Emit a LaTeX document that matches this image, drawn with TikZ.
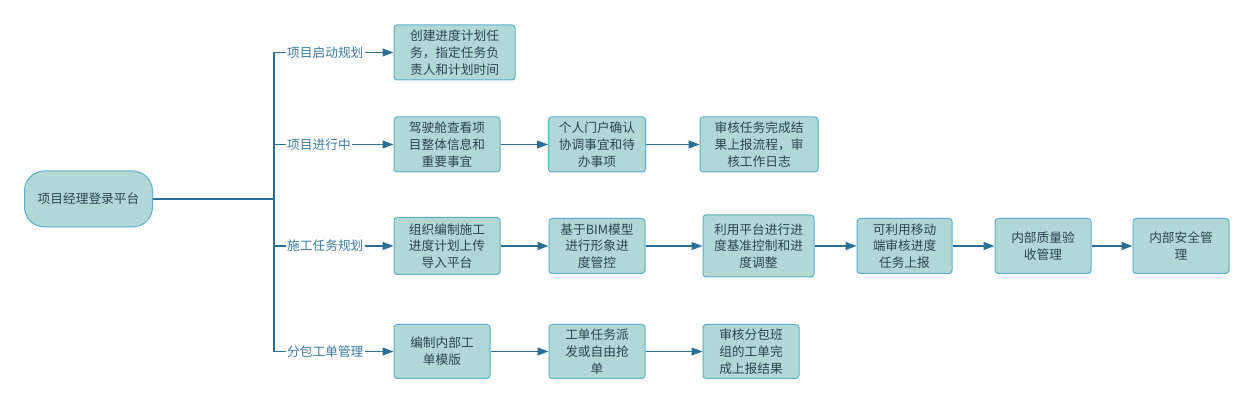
\documentclass[tikz,border=0pt]{standalone}
\usepackage{fontspec}
\setmainfont{Noto Sans CJK SC}
\usetikzlibrary{arrows.meta}
\definecolor{boxfill}{HTML}{B2D8D6}
\definecolor{boxline}{HTML}{5AB0CC}
\definecolor{linkline}{HTML}{2B6E96}
\definecolor{boxtext}{HTML}{2D4452}
\definecolor{labeltext}{HTML}{3A7AA0}
\newcommand\boxfont{\fontsize{12.7}{16.7}\selectfont}
\begin{document}
\begin{tikzpicture}
[x=1pt,y=-1pt,
  rootdecorate/.style={shape=rectangle,rounded corners=20pt,draw=boxline,fill=boxfill,%
    line width=1pt,minimum width=128pt,minimum height=56pt,text=boxtext,font=\boxfont},
  boxdecorate/.style={shape=rectangle,rounded corners=3pt,draw=boxline,fill=boxfill,%
    line width=1pt,inner sep=0pt,align=center,text=boxtext,font=\boxfont},
  labeldecorate/.style={anchor=west,fill=white,inner sep=1pt,text=labeltext,font=\boxfont},
  linedecorate/.style={-,draw=linkline,line width=1.2pt},
  arrowdecorate/.style={-{Triangle[length=11pt,width=8pt]},draw=linkline,line width=1.2pt}]
\useasboundingbox (0,0) rectangle (1254,403);
%% nodes or vertices
\node (root) at (88.5,199) [rootdecorate] {项目经理登录平台};
\coordinate (trunk) at (274,199);
\foreach \nodename/\y/\txt in {l1/52.5/项目启动规划, l2/144.5/项目进行中,
  l3/246/施工任务规划, l4/351.5/分包工单管理} {
  \node (\nodename) at (286,\y) [labeldecorate] {\txt};
}
\foreach \nodename/\x/\y/\w/\h/\txt in {
  b11/454.5/52.5/121/55/{创建进度计划任\\务，指定任务负\\责人和计划时间},
  b21/447/144.5/106/55/{驾驶舱查看项\\目整体信息和\\重要事宜},
  b22/597/144.5/97/55/{个人门户确认\\协调事宜和待\\办事项},
  b23/759/144.5/118/55/{审核任务完成结\\果上报流程，审\\核工作日志},
  b31/447/246/106/57/{组织编制施工\\进度计划上传\\导入平台},
  b32/597/246/96/55/{基于BIM模型\\进行形象进\\度管控},
  b33/758.5/246/111/62/{利用平台进行进\\度基准控制和进\\度调整},
  b34/904.5/246/95/55/{可利用移动\\端审核进度\\任务上报},
  b35/1043/246/96/55/{内部质量验\\收管理},
  b36/1181/246/96/55/{内部安全管\\理},
  b41/442/351.5/96/54/{编制内部工\\单模版},
  b42/597/351.5/96/54/{工单任务派\\发或自由抢\\单},
  b43/751/351.5/96/54/{审核分包班\\组的工单完\\成上报结果}} {
  \node (\nodename) at (\x,\y) [boxdecorate,minimum width=\w pt,minimum height=\h pt] {\txt};
}
%% edges or lines
\draw[linedecorate] (root.east) -- (trunk);
\foreach \labelname in {l1, l2, l3, l4} {
  \draw[linedecorate] (trunk) |- (\labelname.west);
}
\path
\foreach \startnode/\endnode in {l1/b11, l2/b21, b21/b22, b22/b23,
  l3/b31, b31/b32, b32/b33, b33/b34, b34/b35, b35/b36,
  l4/b41, b41/b42, b42/b43} {
  (\startnode) edge[arrowdecorate] (\endnode)
};
\end{tikzpicture}
\end{document}
